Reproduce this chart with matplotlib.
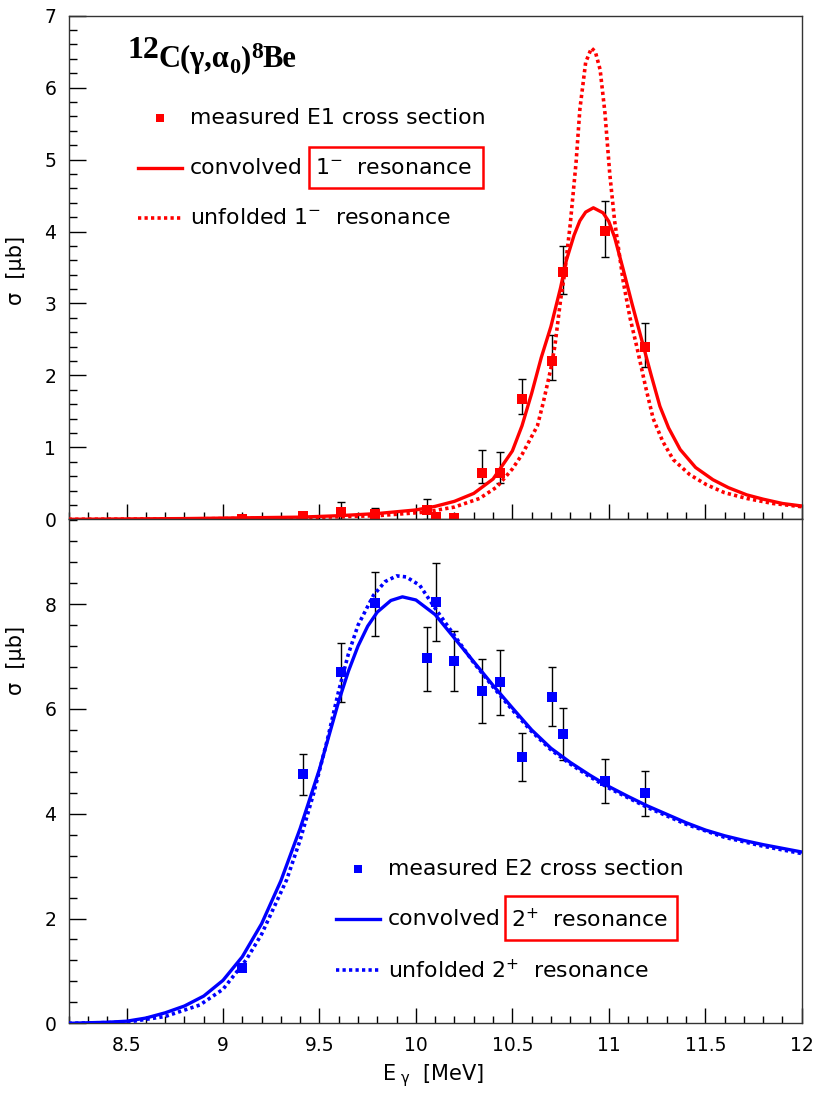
import numpy as np
import matplotlib
matplotlib.use('Agg')
import matplotlib.pyplot as plt
from matplotlib.ticker import MultipleLocator
from matplotlib.patches import Rectangle

plt.rcParams['font.family'] = ['DejaVu Sans']
plt.rcParams['mathtext.fontset'] = 'dejavusans'

# ---- measured points (same energies in both panels)
E_pts = [9.10, 9.415, 9.61, 9.787, 10.055, 10.105, 10.20, 10.343, 10.435, 10.55, 10.703, 10.76, 10.98, 11.186]

e1_val = [0.0, 0.045, 0.10, 0.073, 0.134, 0.028, 0.023, 0.645, 0.65, 1.67, 2.206, 3.44, 4.01, 2.40]
e1_up  = [0.0, 0.0, 0.145, 0.083, 0.15, 0.0, 0.0, 0.315, 0.28, 0.28, 0.36, 0.36, 0.41, 0.33]
e1_dn  = [0.0, 0.0, 0.10, 0.073, 0.134, 0.0, 0.0, 0.135, 0.14, 0.21, 0.27, 0.31, 0.37, 0.28]

e2_val = [1.05, 4.75, 6.70, 8.02, 6.97, 8.05, 6.92, 6.34, 6.51, 5.08, 6.23, 5.52, 4.62, 4.39]
e2_up  = [0.0, 0.39, 0.56, 0.60, 0.59, 0.73, 0.57, 0.61, 0.61, 0.46, 0.58, 0.49, 0.43, 0.43]
e2_dn  = [0.0, 0.39, 0.56, 0.63, 0.62, 0.75, 0.58, 0.61, 0.63, 0.46, 0.56, 0.49, 0.42, 0.43]

# ---- E1 curves (top panel)
top_E_conv = [8.2, 8.8, 9.1, 9.4, 9.6, 9.8, 10.0, 10.1, 10.2, 10.3, 10.4, 10.5, 10.55, 10.6, 10.65,
              10.7, 10.75, 10.78, 10.82, 10.85, 10.88, 10.92, 10.97, 11.0, 11.03, 11.075, 11.12,
              11.18, 11.22, 11.265, 11.31, 11.37, 11.45, 11.54, 11.62, 11.715, 11.8, 11.9, 12.0]
top_conv = [0.0, 0.01, 0.02, 0.03, 0.05, 0.08, 0.13, 0.18, 0.25, 0.36, 0.56, 0.95, 1.3, 1.75, 2.25,
            2.68, 3.22, 3.6, 3.95, 4.15, 4.27, 4.33, 4.26, 4.14, 3.92, 3.47, 3.0,
            2.4, 2.0, 1.57, 1.27, 0.97, 0.72, 0.55, 0.44, 0.34, 0.28, 0.22, 0.185]

top_E_unf = [8.2, 8.8, 9.4, 9.8, 10.05, 10.2, 10.33, 10.42, 10.5, 10.55, 10.6, 10.63, 10.66, 10.7,
             10.72, 10.75, 10.77, 10.8, 10.83, 10.85, 10.88, 10.91, 10.93, 10.955, 10.98, 11.005,
             11.03, 11.075, 11.11, 11.145, 11.19, 11.23, 11.28, 11.334, 11.42, 11.507, 11.6,
             11.715, 11.85, 12.0]
top_unf = [0.0, 0.005, 0.02, 0.05, 0.1, 0.17, 0.29, 0.45, 0.7, 0.9, 1.15, 1.3, 1.62, 2.1,
           2.4, 3.05, 3.4, 4.1, 4.95, 5.7, 6.35, 6.55, 6.5, 6.25, 5.65, 4.8,
           4.15, 3.3, 2.8, 2.4, 1.85, 1.4, 1.08, 0.83, 0.62, 0.48, 0.37,
           0.29, 0.22, 0.175]

# ---- E2 curves (bottom panel)
bot_E_conv = [8.2, 8.4, 8.5, 8.6, 8.7, 8.8, 8.9, 9.0, 9.1, 9.2, 9.3, 9.4, 9.5, 9.55, 9.6, 9.65,
              9.7, 9.75, 9.8, 9.87, 9.93, 10.0, 10.1, 10.2, 10.3, 10.4, 10.5, 10.6, 10.7, 10.8,
              10.9, 11.0, 11.1, 11.2, 11.3, 11.4, 11.5, 11.6, 11.7, 11.8, 11.9, 12.0]
bot_conv = [0.0, 0.02, 0.04, 0.1, 0.2, 0.33, 0.52, 0.82, 1.27, 1.9, 2.72, 3.72, 4.85, 5.5, 6.15, 6.72,
            7.2, 7.58, 7.85, 8.07, 8.14, 8.08, 7.8, 7.35, 6.9, 6.45, 6.02, 5.6, 5.25, 4.98,
            4.74, 4.52, 4.33, 4.15, 3.99, 3.83, 3.69, 3.58, 3.49, 3.41, 3.34, 3.27]

bot_E_unf = [8.2, 8.5, 8.7, 8.88, 9.0, 9.12, 9.2, 9.33, 9.4, 9.47, 9.54, 9.6, 9.65, 9.7, 9.78, 9.84,
             9.9, 9.95, 10.02, 10.1, 10.2, 10.3, 10.4, 10.5, 10.6, 10.7, 10.8, 10.9, 11.0,
             11.2, 11.4, 11.6, 11.8, 12.0]
bot_unf = [0.0, 0.02, 0.13, 0.35, 0.65, 1.21, 1.7, 2.74, 3.5, 4.39, 5.4, 6.35, 7.05, 7.6, 8.17, 8.43,
           8.54, 8.52, 8.36, 7.92, 7.4, 6.88, 6.42, 5.98, 5.57, 5.22, 4.95, 4.71, 4.49,
           4.12, 3.8, 3.55, 3.38, 3.24]

W, H = 817, 1096
fig = plt.figure(figsize=(W / 100, H / 100), dpi=100)

def fx(x):
    return x / W

def fy(y):
    return 1 - y / H

ax1 = fig.add_axes([fx(68.7), fy(519.3), fx(801.7 - 68.7), (519.3 - 15.7) / H])
ax2 = fig.add_axes([fx(68.7), fy(1023.3), fx(801.7 - 68.7), (1023.3 - 519.3) / H])

RED = '#ff0000'
BLUE = '#0000ff'
dot = (0, (0.9, 0.9))

for ax, val, up, dn, Ec, c, Eu, u, col in [
        (ax1, e1_val, e1_up, e1_dn, top_E_conv, top_conv, top_E_unf, top_unf, RED),
        (ax2, e2_val, e2_up, e2_dn, bot_E_conv, bot_conv, bot_E_unf, bot_unf, BLUE)]:
    ax.errorbar(E_pts, val, yerr=[dn, up], fmt='none', ecolor='black', elinewidth=1,
                capsize=3, capthick=1, zorder=2)
    ax.plot(Ec, c, color=col, lw=2.4, zorder=3, solid_joinstyle='round')
    ax.plot(Eu, u, color=col, lw=2.6, linestyle=dot, zorder=3)
    ax.plot(E_pts, val, 's', color=col, markersize=7, markeredgewidth=0, zorder=4)
    ax.set_xlim(8.2, 12)
    ax.xaxis.set_major_locator(MultipleLocator(0.5))
    ax.xaxis.set_minor_locator(MultipleLocator(0.1))
    ax.tick_params(axis='both', which='both', direction='in', top=False, right=False,
                   labelsize=13.5, pad=9)
    ax.tick_params(axis='x', which='major', length=11, width=1)
    ax.tick_params(axis='x', which='minor', length=5, width=1)
    ax.tick_params(axis='y', which='major', length=12, width=1)
    ax.tick_params(axis='y', which='minor', length=6, width=1)
    for s in ax.spines.values():
        s.set_color('#333333')
        s.set_linewidth(1)

ax1.set_ylim(0, 7)
ax1.yaxis.set_major_locator(MultipleLocator(1))
ax1.yaxis.set_minor_locator(MultipleLocator(0.2))
ax1.tick_params(axis='x', labelbottom=False)
ax1.spines['bottom'].set_color('black')

ax2.set_ylim(0, 9.62)
ax2.yaxis.set_major_locator(MultipleLocator(2))
ax2.yaxis.set_minor_locator(MultipleLocator(0.4))
ax2.set_xticks([8.5, 9, 9.5, 10, 10.5, 11, 11.5, 12])
ax2.set_xticklabels(['8.5', '9', '9.5', '10', '10.5', '11', '11.5', '12'])

# axis titles
fig.text(fx(433), fy(1076), r'E$_{\ \mathrm{γ}}$  [MeV]', fontsize=15, ha='center', va='center')
fig.text(fx(16), fy(270), 'σ  [μb]', fontsize=15, rotation=90, ha='center', va='center')
fig.text(fx(16), fy(660), 'σ  [μb]', fontsize=15, rotation=90, ha='center', va='center')

# reaction label, built run by run
renderer = fig.canvas.get_renderer()
title_runs = [('12', 23, -9), ('C(γ,α', 22, 0), ('0', 16, 6), (')', 22, 0), ('8', 17, -9), ('Be', 22, 0)]
xcur = 127
for s, size, dy in title_runs:
    t = fig.text(fx(xcur), fy(67 + dy), s, fontsize=size, family='Liberation Serif',
                 weight='bold', ha='left', va='baseline')
    bb = t.get_window_extent(renderer)
    xcur += bb.width

# legends
def legend(ax_color, mark_xy, row_y, text_x, labels, box):
    mx, my = mark_xy
    fig.add_artist(plt.Line2D([fx(mx)], [fy(my)], marker='s', color=ax_color,
                              markersize=6, markeredgewidth=0, linestyle='none'))
    fig.add_artist(plt.Line2D([fx(mx - 22), fx(mx + 22)], [fy(row_y[1])] * 2, color=ax_color, lw=2.4))
    fig.add_artist(plt.Line2D([fx(mx - 22), fx(mx + 22)], [fy(row_y[2])] * 2, color=ax_color,
                              lw=2.6, linestyle=dot))
    fig.text(fx(text_x), fy(row_y[0]), labels[0], fontsize=15.8, va='center')
    fig.text(fx(text_x), fy(row_y[1]), labels[1], fontsize=15.8, va='center')
    fig.text(fx(box[0] + 6), fy(row_y[1]), labels[2], fontsize=15.8, va='center')
    fig.text(fx(text_x), fy(row_y[2]), labels[3], fontsize=15.8, va='center')
    fig.add_artist(Rectangle((fx(box[0]), fy(box[3])), fx(box[2] - box[0]), (box[3] - box[1]) / H,
                             fill=False, edgecolor=RED, lw=1.8, transform=fig.transFigure))

legend(RED, (160, 118), [118, 168, 218], 190,
       ['measured E1 cross section', 'convolved', r'$1^{-}$  resonance', r'unfolded $1^{-}$  resonance'],
       (309, 147, 483, 188))
legend(BLUE, (358, 869), [869, 919, 970], 388,
       ['measured E2 cross section', 'convolved', r'$2^{+}$  resonance', r'unfolded $2^{+}$  resonance'],
       (505, 896, 677, 940))

fig.savefig('out.png', dpi=100)
